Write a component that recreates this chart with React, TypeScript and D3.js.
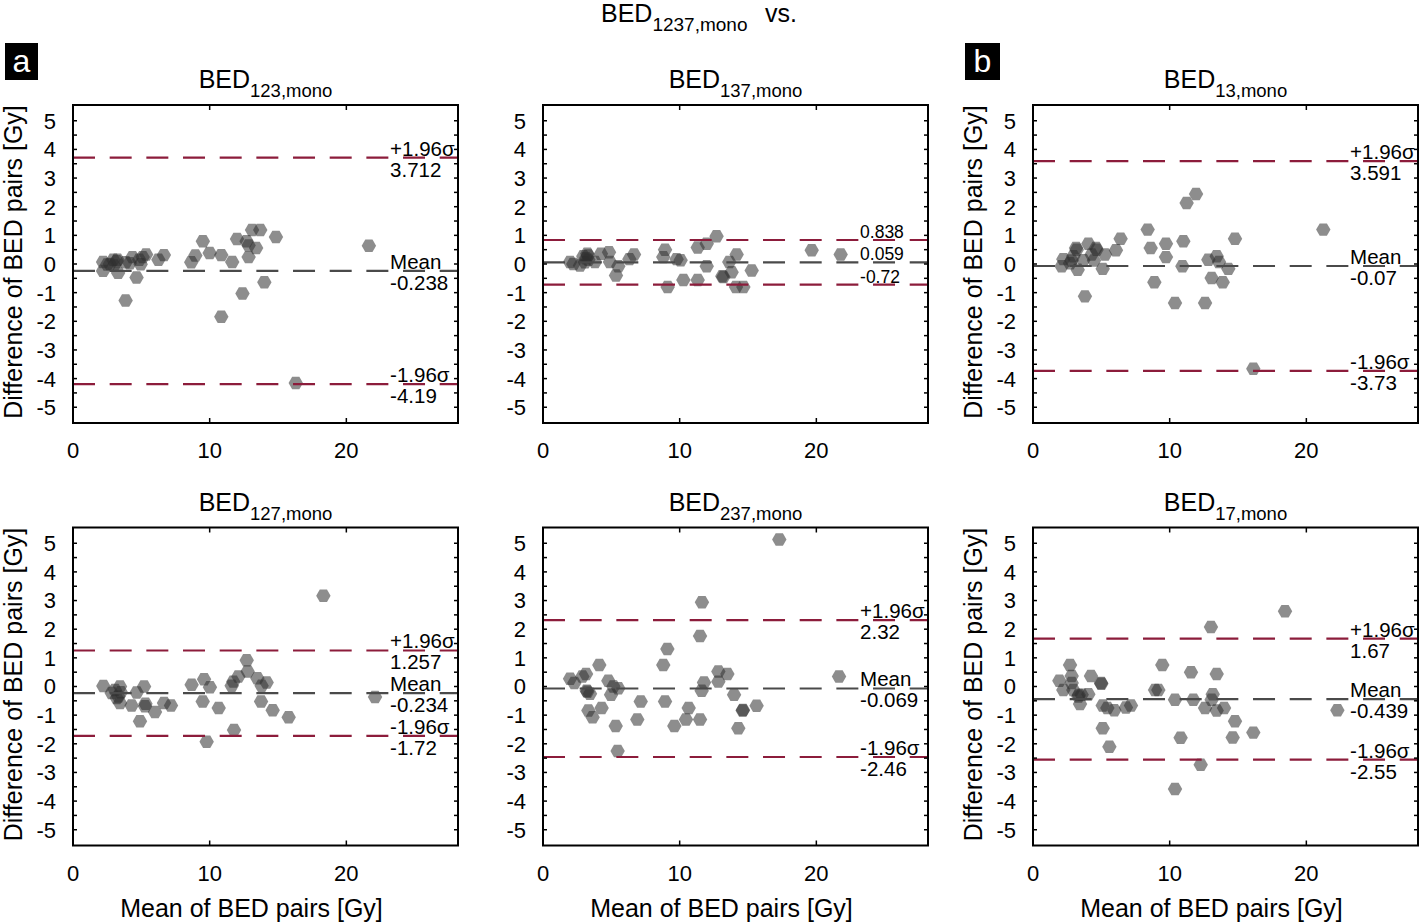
import * as d3 from 'd3'

// Bland-Altman panels: [mean of pair, difference]
const bed123Pts: [number, number][] = [
  [2.2, 0.07], [2.2, -0.24], [2.5, -0.02], [2.7, 0.0], [2.95, 0.15], [3.0, -0.05], [3.25, 0.15], [3.2, 0.1],
  [3.3, -0.31], [3.85, 0.06], [3.85, -1.27], [4.15, 0.03], [4.35, 0.24], [4.65, -0.47], [4.85, 0.15],
  [4.95, -0.01], [5.1, 0.24], [5.35, 0.33], [6.25, 0.15], [6.65, 0.31], [8.65, 0.06], [8.95, 0.3],
  [9.5, 0.79], [10.0, 0.38], [10.85, 0.31], [10.85, -1.84], [11.65, 0.07], [12.0, 0.87], [12.4, -1.03],
  [12.7, 0.79], [12.85, 0.65], [12.85, 0.24], [13.1, 1.19], [13.4, 0.56], [13.7, 1.19], [14.0, -0.64],
  [14.85, 0.94], [16.3, -4.15], [21.65, 0.64],
]
const bed137Pts: [number, number][] = [
  [1.98, 0.07], [2.22, 0.0], [2.71, -0.05], [2.95, 0.27], [3.07, 0.06], [3.15, 0.2], [3.24, 0.36], [3.3, 0.3],
  [3.32, 0.15], [3.8, 0.07], [4.24, 0.36], [4.83, 0.41], [4.9, 0.07], [5.51, -0.08], [5.34, -0.4],
  [6.32, 0.17], [6.66, 0.33], [8.8, 0.24], [8.93, 0.5], [9.12, -0.8], [9.78, 0.17], [10.07, 0.13],
  [10.27, -0.56], [11.32, 0.58], [11.32, -0.56], [11.98, 0.71], [11.98, -0.08], [12.7, 0.97],
  [13.12, -0.43], [13.2, -0.45], [13.63, 0.07], [13.8, -0.29], [14.17, 0.33], [14.12, -0.8],
  [14.66, -0.8], [15.27, -0.23], [19.66, 0.48], [21.78, 0.33],
]
const bed13Pts: [number, number][] = [
  [2.1, -0.08], [2.22, 0.17], [2.71, 0.03], [2.83, 0.12], [2.95, 0.27], [3.15, 0.56], [3.2, 0.5],
  [3.27, -0.2], [3.68, 0.13], [3.8, -1.13], [4.05, 0.71], [4.29, 0.33], [4.46, 0.12], [4.61, 0.56],
  [4.65, 0.5], [5.1, -0.17], [5.27, 0.33], [6.07, 0.48], [6.41, 0.88], [8.39, 1.2], [8.61, 0.56],
  [8.88, -0.64], [9.73, 0.71], [9.73, 0.24], [10.39, -1.36], [10.93, -0.08], [11.0, 0.79], [11.24, 2.13],
  [11.93, 2.44], [12.59, -1.36], [12.83, 0.15], [13.07, -0.49], [13.44, 0.27], [13.61, 0.07],
  [13.88, -0.64], [14.29, -0.17], [14.78, 0.88], [16.12, -3.66], [21.24, 1.2],
]
const bed127Pts: [number, number][] = [
  [2.22, 0.02], [2.83, -0.23], [3.07, -0.12], [3.2, -0.4], [3.32, -0.35], [3.44, 0.0], [3.44, -0.58],
  [3.5, -0.2], [4.29, -0.66], [4.66, -0.21], [4.9, -1.21], [5.2, 0.0], [5.27, -0.69], [5.3, -0.6],
  [6.0, -0.89], [6.66, -0.58], [7.17, -0.66], [8.68, 0.06], [9.49, -0.52], [9.59, 0.25], [10.02, -0.03],
  [9.78, -1.93], [10.66, -0.75], [11.61, 0.03], [11.78, -1.52], [11.73, 0.17], [12.1, 0.35],
  [12.71, 0.92], [12.78, 0.52], [13.49, 0.29], [13.8, 0.03], [14.17, 0.14], [13.76, -0.52],
  [14.61, -0.83], [15.78, -1.07], [18.32, 3.17], [22.1, -0.37],
]
const bed237Pts: [number, number][] = [
  [1.98, 0.27], [2.29, 0.12], [2.88, 0.35], [3.15, 0.44], [3.2, -0.15], [3.25, -0.18], [3.44, -0.25],
  [3.32, -0.84], [3.63, -1.07], [4.12, 0.75], [4.29, -0.75], [4.78, 0.2], [4.98, -0.29], [5.15, 0.0],
  [5.51, -0.06], [5.32, -1.38], [5.46, -2.25], [6.9, -1.15], [7.15, -0.52], [8.8, 0.75], [9.1, 1.31],
  [8.93, -0.52], [9.61, -1.38], [10.46, -1.15], [10.66, -0.75], [11.49, -1.15], [11.49, 1.76],
  [11.63, 2.94], [11.61, -0.15], [11.78, 0.14], [12.83, 0.17], [12.83, 0.52], [13.49, 0.44],
  [13.98, -0.29], [14.29, -1.46], [14.61, -0.84], [14.63, -0.82], [15.63, -0.67], [17.29, 5.13],
  [21.66, 0.35],
]
const bed17Pts: [number, number][] = [
  [1.93, 0.2], [2.22, -0.12], [2.71, 0.75], [2.83, 0.37], [2.83, 0.12], [2.95, -0.12], [3.32, -0.35],
  [3.35, -0.3], [3.44, -0.61], [3.56, -0.29], [4.05, -0.27], [4.24, 0.37], [4.98, 0.12], [5.0, 0.1],
  [5.1, -0.66], [5.1, -1.46], [5.44, -0.75], [5.59, -2.1], [5.95, -0.83], [6.8, -0.73], [7.17, -0.66],
  [8.93, -0.12], [9.17, -0.12], [9.46, 0.75], [10.39, -0.46], [10.39, -3.58], [10.8, -1.79],
  [11.56, 0.5], [11.73, -0.46], [12.27, -2.73], [12.59, -0.75], [13.02, 2.08], [13.15, -0.27],
  [13.07, -0.46], [13.44, 0.44], [13.44, -0.84], [13.98, -0.75], [14.78, -1.21], [14.61, -1.78],
  [16.12, -1.61], [18.44, 2.63], [22.27, -0.83],
]

// limits of agreement: [+1.96σ, mean, -1.96σ] and their printed labels
const lim123 = [3.712, -0.238, -4.19]
const lab123 = ['3.712', '-0.238', '-4.19']
const lim137 = [0.838, 0.059, -0.72]
const lab137 = ['0.838', '0.059', '-0.72']
const lim13 = [3.591, -0.07, -3.73]
const lab13 = ['3.591', '-0.07', '-3.73']
const lim127 = [1.257, -0.234, -1.72]
const lab127 = ['1.257', '-0.234', '-1.72']
const lim237 = [2.32, -0.069, -2.46]
const lab237 = ['2.32', '-0.069', '-2.46']
const lim17 = [1.67, -0.439, -2.55]
const lab17 = ['1.67', '-0.439', '-2.55']

const xTicks = [0, 10, 20]
const yTicks = [-5, -4, -3, -2, -1, 0, 1, 2, 3, 4, 5]

const FONT = "'Liberation Sans', Arial, Helvetica, sans-serif"
const RED = '#8c1c3b'
const GREY = '#4a4a4a'
const W = 385
const H = 318
const colX = [73, 543, 1033]
const rowY = [105, 527.5]

interface PanelCfg {
  sub: string
  pts: [number, number][]
  lim: number[]
  lab: string[]
  sigma: boolean
  col: number
  row: number
}

const panels: PanelCfg[] = [
  { sub: '123,mono', pts: bed123Pts, lim: lim123, lab: lab123, sigma: true, col: 0, row: 0 },
  { sub: '137,mono', pts: bed137Pts, lim: lim137, lab: lab137, sigma: false, col: 1, row: 0 },
  { sub: '13,mono', pts: bed13Pts, lim: lim13, lab: lab13, sigma: true, col: 2, row: 0 },
  { sub: '127,mono', pts: bed127Pts, lim: lim127, lab: lab127, sigma: true, col: 0, row: 1 },
  { sub: '237,mono', pts: bed237Pts, lim: lim237, lab: lab237, sigma: true, col: 1, row: 1 },
  { sub: '17,mono', pts: bed17Pts, lim: lim17, lab: lab17, sigma: true, col: 2, row: 1 },
]

const hexagon = {
  draw(ctx: any, size: number) {
    const r = Math.sqrt((2 * size) / (3 * Math.sqrt(3)))
    for (let i = 0; i < 6; i++) {
      const a = (i * Math.PI) / 3
      const px = r * Math.cos(a)
      const py = r * Math.sin(a)
      if (i === 0) ctx.moveTo(px, py)
      else ctx.lineTo(px, py)
    }
    ctx.closePath()
  },
}

function Panel({ p }: { p: PanelCfg }) {
  const x = d3.scaleLinear().domain([0, 28.17]).range([0, W])
  const y = d3.scaleLinear().domain([-5.55, 5.55]).range([H, 0])
  const hex = d3.symbol().type(hexagon as any).size(135)() as string
  const minor = d3.range(-10, 11).map(i => i / 2)
  const sigmaTop = ['+1.96σ', 'Mean', '-1.96σ']
  const labelX = x(23.2)

  return (
    <g transform={`translate(${colX[p.col]},${rowY[p.row]})`}>
      {/* title */}
      <text x={W / 2} y={-17} textAnchor="middle" fontSize={25}>
        <tspan>BED</tspan>
        <tspan fontSize={18.5} dy={9}>{p.sub}</tspan>
      </text>

      {/* points */}
      {p.pts.map((d, i) => (
        <path key={i} d={hex} transform={`translate(${x(d[0])},${y(d[1])})`} fill="#303030" fillOpacity={0.55} />
      ))}

      {/* limit lines */}
      {p.lim.map((v, i) => (
        <line key={i} x1={0} x2={W} y1={y(v)} y2={y(v)} stroke={i === 1 ? GREY : RED}
          strokeWidth={2.2} strokeDasharray="22 14.67" />
      ))}

      {/* labels */}
      {p.lim.map((v, i) =>
        p.sigma ? (
          <g key={i}>
            <text x={labelX} y={y(v) - 2} fontSize={20.5}>{sigmaTop[i]}</text>
            <text x={labelX} y={y(v) + 19} fontSize={20.5}>{p.lab[i]}</text>
          </g>
        ) : (
          <text key={i} x={labelX} y={y(v) - 2} fontSize={17.5}>{p.lab[i]}</text>
        )
      )}

      {/* ticks */}
      {minor.map(t => (
        <g key={t}>
          <line x1={0} x2={4} y1={y(t)} y2={y(t)} stroke="#000" strokeWidth={1.5} />
          <line x1={W - 4} x2={W} y1={y(t)} y2={y(t)} stroke="#000" strokeWidth={1.5} />
        </g>
      ))}
      {xTicks.map(t => (
        <g key={t}>
          <line x1={x(t)} x2={x(t)} y1={H} y2={H - 5} stroke="#000" strokeWidth={1.5} />
          <line x1={x(t)} x2={x(t)} y1={0} y2={5} stroke="#000" strokeWidth={1.5} />
          <text x={x(t)} y={H + 35} textAnchor="middle" fontSize={22}>{String(t)}</text>
        </g>
      ))}
      {yTicks.map(t => (
        <text key={t} x={-17} y={y(t)} dy="0.36em" textAnchor="end" fontSize={22}>{String(t)}</text>
      ))}

      <rect x={0} y={0} width={W} height={H} fill="none" stroke="#000" strokeWidth={2} />

      {p.col !== 1 && (
        <text transform={`translate(-60,${H / 2 - 2}) rotate(-90)`} dy="0.36em" textAnchor="middle" fontSize={25}>
          Difference of BED pairs [Gy]
        </text>
      )}
      {p.row === 1 && (
        <text x={W / 2 - 14} y={H + 71} textAnchor="middle" fontSize={25}>Mean of BED pairs [Gy]</text>
      )}
    </g>
  )
}

export default function App() {
  return (
    <svg width={1419} height={923} fontFamily={FONT}
      style={{ position: 'absolute', left: 0, top: 0, background: '#fff' }}>
      <text x={601} y={22} fontSize={25}>
        <tspan>BED</tspan>
        <tspan fontSize={19} dy={9}>1237,mono</tspan>
      </text>
      <text x={765} y={22} fontSize={25}>vs.</text>

      <rect x={5} y={43} width={33} height={37} fill="#000" />
      <text x={21.5} y={72} textAnchor="middle" fontSize={32} fill="#fff">a</text>
      <rect x={965} y={43} width={35} height={37} fill="#000" />
      <text x={982.5} y={72} textAnchor="middle" fontSize={32} fill="#fff">b</text>

      {panels.map(p => <Panel key={p.sub} p={p} />)}
    </svg>
  )
}
